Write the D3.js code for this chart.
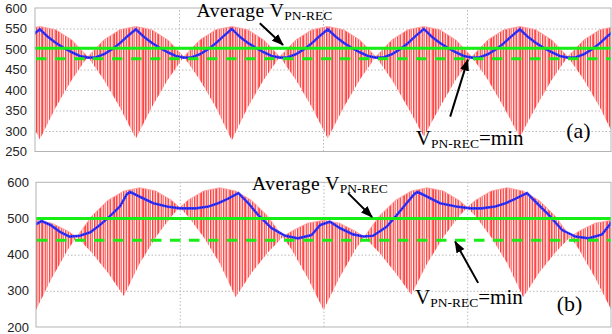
<!DOCTYPE html>
<html>
<head>
<meta charset="utf-8">
<script src="https://cdn.jsdelivr.net/npm/d3@7/dist/d3.min.js"></script>
<style>
  body { margin: 0; background: #fff; }
  svg { display: block; }
</style>
</head>
<body>
<svg id="chart" width="612" height="334"></svg>
<script>
// x axis: electrical angle in degrees over one 20 ms grid period (0..360)
const xTicks = [90, 180, 270];

// ---- panel (a) ----
const topYTicks = [600, 550, 500, 450, 400, 350, 300, 250];
const topEnvAngle = [-7, 3, 13, 23, 33, 43, 53, 63, 73, 83, 93, 103, 113, 123, 133, 143, 153, 163, 173,
  183, 193, 203, 213, 223, 233, 243, 253, 263, 273, 283, 293, 303, 313, 323, 333, 343, 353, 363];
const topUpper = [547, 555, 547, 522, 481, 522, 547, 555, 547, 522, 481, 522, 547, 555, 547, 522, 481, 522,
  547, 555, 547, 522, 481, 522, 547, 555, 547, 522, 481, 522, 547, 555, 547, 522, 481, 522, 547, 555];
const topLower = [358, 279, 358, 425, 481, 425, 358, 281, 358, 425, 481, 425, 358, 277, 358, 425, 481, 425,
  358, 282, 358, 425, 481, 425, 358, 286, 358, 425, 481, 425, 358, 285, 358, 425, 481, 425, 358, 279];
const topBlueAngle = [-2, 3, 8, 13, 18, 23, 28, 33, 38, 43, 48, 53, 58, 63, 68, 73, 78, 83, 88, 93, 98, 103,
  108, 113, 118, 123, 128, 133, 138, 143, 148, 153, 158, 163, 168, 173, 178, 183, 188, 193, 198, 203, 208,
  213, 218, 223, 228, 233, 238, 243, 248, 253, 258, 263, 268, 273, 278, 283, 288, 293, 298, 303, 308, 313,
  318, 323, 328, 333, 338, 343, 348, 353, 358, 363];
const topBlue = [532,
  548, 530, 515, 503, 492, 483, 479, 480, 487, 499, 514, 532,
  548, 530, 515, 503, 492, 483, 479, 480, 487, 499, 514, 532,
  549, 530, 515, 503, 492, 483, 479, 480, 487, 499, 514, 532,
  548, 530, 515, 503, 492, 483, 479, 480, 487, 499, 514, 532,
  549, 530, 515, 503, 492, 483, 479, 480, 487, 499, 514, 532,
  548, 530, 515, 503, 492, 483, 479, 480, 487, 499, 514, 532,
  548];
const topAverage = 502;
const topMinimum = 476;

// ---- panel (b) ----
const botYTicks = [600, 500, 400, 300, 200];
const botEnvAngle = [-10, 0, 10, 20, 25.5, 35, 45, 55, 65, 75, 85, 90, 95, 105, 115, 125, 135, 145, 154.5,
  160, 170, 180, 190, 200, 205.5, 215, 225, 235, 245, 255, 265, 270, 275, 285, 295, 305, 315, 325, 334.5,
  340, 350, 360, 370];
const botUpper = [487, 495, 487, 465, 449, 507, 550, 576, 585, 576, 550, 530, 550, 576, 585, 576, 550, 507, 449,
  465, 487, 495, 487, 465, 449, 507, 550, 576, 585, 576, 550, 530, 550, 576, 585, 576, 550, 507, 449,
  465, 487, 495, 487];
const botLower = [336, 247, 336, 414, 449, 405, 350, 286, 376, 448, 507, 530, 507, 448, 376, 282, 350, 405, 449,
  414, 336, 247, 336, 414, 449, 405, 350, 289, 376, 448, 507, 530, 507, 448, 376, 282, 350, 405, 449,
  414, 336, 249, 336];
const botBlueAngle = [0, 3.5, 9, 15, 21, 27.5, 34, 40, 46, 52.5, 57, 59, 65, 73.5, 82, 90, 100, 108, 114, 120,
  126.7, 133, 139, 147.5, 156, 164, 172.5, 178, 184, 190.5, 198.5, 205, 211, 219.5, 226, 232, 237, 239, 245,
  253, 263, 272, 279, 287.5, 294, 300, 307.4, 313.7, 321, 329.4, 337.7, 346, 354.4, 360.7];
const botBlue = [484, 493, 482, 463, 450, 452, 462, 482, 505, 533, 568, 573, 560, 542, 533, 528, 528, 533, 542, 554,
  570, 542, 510, 473, 452, 445, 454, 482, 491, 473, 456, 450, 452, 477, 510, 542, 568, 573, 560,
  542, 533, 528, 528, 533, 542, 554, 570, 542, 510, 468, 450, 445, 456, 491];
const botAverage = 500;
const botMinimum = 440;

const svg = d3.select('#chart');
const defs = svg.append('defs');

// fine vertical hatching for the switched voltage area
const hatch = defs.append('pattern')
  .attr('id', 'hatch')
  .attr('patternUnits', 'userSpaceOnUse')
  .attr('width', 29)
  .attr('height', 10);
hatch.append('rect').attr('width', 29).attr('height', 10).attr('fill', '#ffb4b4');
[[0, '#ff4a4a'], [1, '#ff8c8c'], [2, '#ffd0d0'], [3, '#ff5a5a'], [5, '#ff7878'], [6, '#ffffff'],
 [7, '#ff4040'], [8, '#ffa8a8'], [10, '#ff5252'], [11, '#ffe0e0'], [12, '#ff6e6e'], [13, '#ff4545'],
 [15, '#ffc0c0'], [16, '#ff5e5e'], [18, '#ff8282'], [19, '#ffecec'], [20, '#ff4a4a'], [22, '#ff9a9a'],
 [23, '#ff5454'], [24, '#ffd6d6'], [26, '#ff6666'], [27, '#ff4242'], [28, '#ffc8c8']]
  .forEach(([x, c]) => hatch.append('rect').attr('x', x).attr('width', 1).attr('height', 10).attr('fill', c));

defs.append('marker')
  .attr('id', 'arrow')
  .attr('viewBox', '0 -5 12 10')
  .attr('markerUnits', 'userSpaceOnUse')
  .attr('markerWidth', 12)
  .attr('markerHeight', 10)
  .attr('refX', 11)
  .attr('refY', 0)
  .attr('orient', 'auto')
  .append('path')
  .attr('d', 'M0,-4.5L12,0L0,4.5Z')
  .attr('fill', '#000');

function drawPanel(p) {
  const x = d3.scaleLinear().domain([0, 360]).range([p.left, p.right]);
  const y = d3.scaleLinear().domain(p.yDomain).range([p.bottom, p.top]);
  const g = svg.append('g');
  const w = p.right - p.left;

  defs.append('clipPath').attr('id', p.id + '-clip')
    .append('rect')
    .attr('x', p.left).attr('y', p.top)
    .attr('width', w).attr('height', p.bottom - p.top);

  // grid
  g.append('g')
    .attr('transform', `translate(${p.left},0)`)
    .call(d3.axisLeft(y).tickValues(p.yTicks.slice(1, -1)).tickSize(-w).tickFormat(''))
    .call((s) => s.select('.domain').remove())
    .selectAll('line')
    .attr('stroke', '#b8b8b8')
    .attr('stroke-dasharray', '1.5,2');
  g.append('g')
    .attr('transform', `translate(0,${p.bottom})`)
    .call(d3.axisBottom(x).tickValues(xTicks).tickSize(-(p.bottom - p.top)).tickFormat(''))
    .call((s) => s.select('.domain').remove())
    .selectAll('line')
    .attr('stroke', '#b8b8b8')
    .attr('stroke-dasharray', '1.5,2');

  const plot = g.append('g').attr('clip-path', `url(#${p.id}-clip)`);

  const env = p.envAngle.map((a, i) => ({ a, hi: p.upper[i], lo: p.lower[i] }));
  plot.append('path')
    .datum(env)
    .attr('d', d3.area().x((d) => x(d.a)).y0((d) => y(d.lo)).y1((d) => y(d.hi)))
    .attr('fill', 'url(#hatch)');
  plot.append('path')
    .datum(env)
    .attr('d', d3.line().x((d) => x(d.a)).y((d) => y(d.hi)))
    .attr('fill', 'none')
    .attr('stroke', '#ff9a9a')
    .attr('stroke-width', 0.8);

  const blue = p.blueAngle.map((a, i) => ({ a, v: p.blue[i] }));
  const blueLine = d3.line().x((d) => x(d.a)).y((d) => y(d.v));
  plot.append('path')
    .datum(blue)
    .attr('d', blueLine)
    .attr('fill', 'none')
    .attr('stroke', '#3a3aff')
    .attr('stroke-width', 2.6);
  plot.append('path')
    .datum(blue)
    .attr('d', blueLine)
    .attr('fill', 'none')
    .attr('stroke', '#0000a0')
    .attr('stroke-width', 1)
    .attr('stroke-dasharray', '1,1.5');

  plot.append('line')
    .attr('x1', p.left).attr('x2', p.right)
    .attr('y1', y(p.average)).attr('y2', y(p.average))
    .attr('stroke', '#16ee16')
    .attr('stroke-width', 3);
  plot.append('line')
    .attr('x1', p.left + 1).attr('x2', p.right)
    .attr('y1', y(p.minimum)).attr('y2', y(p.minimum))
    .attr('stroke', '#16ee16')
    .attr('stroke-width', 3)
    .attr('stroke-dasharray', '10.5,8.5');

  // frame
  g.append('rect')
    .attr('x', p.left).attr('y', p.top)
    .attr('width', w).attr('height', p.bottom - p.top)
    .attr('fill', 'none')
    .attr('stroke', '#b4b4b4');

  // y labels
  g.append('g')
    .attr('transform', `translate(${p.left},0)`)
    .call(d3.axisLeft(y).tickValues(p.yTicks).tickSize(0).tickPadding(p.pad))
    .call((s) => s.select('.domain').remove())
    .selectAll('text')
    .attr('font-family', '"Liberation Sans", Arial, sans-serif')
    .attr('font-size', 13)
    .attr('fill', '#222');

  // annotations
  const serif = '"Liberation Serif", "Times New Roman", serif';
  const avgText = g.append('text')
    .attr('x', x(p.avgLabel[0])).attr('y', y(p.avgLabel[1]))
    .attr('font-family', serif).attr('font-size', 19.5).attr('letter-spacing', 0.5).attr('fill', '#000');
  avgText.append('tspan').text('Average V');
  avgText.append('tspan').attr('font-size', 13.5).attr('letter-spacing', 0).attr('dy', 3).text('PN-REC');

  const minText = g.append('text')
    .attr('x', x(p.minLabel[0])).attr('y', y(p.minLabel[1]))
    .attr('font-family', serif).attr('font-size', 21).attr('fill', '#000');
  minText.append('tspan').text('V');
  minText.append('tspan').attr('font-size', 13.5).attr('dy', 3).text('PN-REC');
  minText.append('tspan').attr('dy', -3).text('=min');

  g.append('text')
    .attr('x', x(p.tag[0])).attr('y', y(p.tag[1]))
    .attr('font-family', serif).attr('font-size', 22).attr('fill', '#000')
    .text(p.tagText);

  [p.avgArrow, p.minArrow].forEach((ar) => {
    g.append('line')
      .attr('x1', x(ar[0][0])).attr('y1', y(ar[0][1]))
      .attr('x2', x(ar[1][0])).attr('y2', y(ar[1][1]))
      .attr('stroke', '#000')
      .attr('stroke-width', 2)
      .attr('marker-end', 'url(#arrow)');
  });
}

drawPanel({
  id: 'pa', left: 35, right: 611, top: 8, bottom: 151.5, pad: 8,
  yDomain: [250, 600], yTicks: topYTicks,
  envAngle: topEnvAngle, upper: topUpper, lower: topLower,
  blueAngle: topBlueAngle, blue: topBlue,
  average: topAverage, minimum: topMinimum,
  avgLabel: [101, 577.5], avgArrow: [[140.5, 563], [155, 510]],
  minLabel: [238, 266], minArrow: [[259.5, 335], [270.5, 474]],
  tag: [332, 284], tagText: '(a)'
});

drawPanel({
  id: 'pb', left: 36, right: 611, top: 182.3, bottom: 327, pad: 7,
  yDomain: [200, 600], yTicks: botYTicks,
  envAngle: botEnvAngle, upper: botUpper, lower: botLower,
  blueAngle: botBlueAngle, blue: botBlue,
  average: botAverage, minimum: botMinimum,
  avgLabel: [135.3, 579], avgArrow: [[195.4, 570], [210.4, 504]],
  minLabel: [237.3, 264], minArrow: [[276.8, 322], [262.4, 436]],
  tag: [326, 244], tagText: '(b)'
});
</script>
</body>
</html>
